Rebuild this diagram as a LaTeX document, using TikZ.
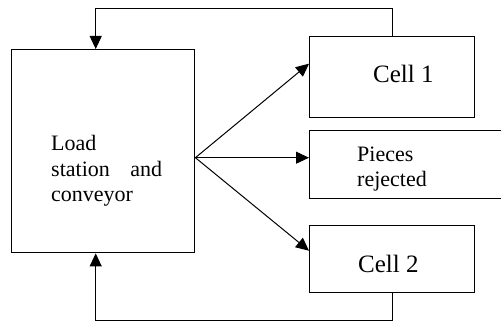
\documentclass[tikz,border=0pt]{standalone}
\usepackage{fontspec}
\setmainfont{Liberation Serif}
\usetikzlibrary{arrows.meta, positioning}

\begin{document}
\begin{tikzpicture}[
  x=1pt, y=-1pt,
  >={Triangle[length=13pt,width=12pt]},
  blk/.style={draw, line width=1.4pt, inner sep=0pt},
  lbl/.style={font=\fontsize{22}{25.5}\selectfont, align=left, inner sep=0pt},
  clbl/.style={font=\fontsize{25}{30}\selectfont, inner sep=0pt},
  arr/.style={->, line width=1pt}
]
\useasboundingbox (0,0) rectangle (501,321);
\clip (0,0) rectangle (501,321);

% station and the three outlets
\node[blk, anchor=north west, minimum width=183pt, minimum height=203pt] (load) at (11,49) {};
\node[blk, anchor=north west, minimum width=165pt, minimum height=81pt] (cell1) at (309,36) {};
\node[blk, anchor=north west, minimum width=210pt, minimum height=68pt] (rej) at (309,130) {};
\node[blk, anchor=north west, minimum width=165pt, minimum height=67pt] (cell2) at (309,225) {};

\node[lbl, anchor=base west, text width=111pt] (loadtxt) at (51,150.7)
  {Load\\station\hfill and\\conveyor};
\node[clbl, anchor=base west] (cell1txt) at (373,83) {Cell 1};
\node[lbl, anchor=base west, text width=80pt] (rejtxt) at (357,161) {Pieces\\rejected};
\node[clbl, anchor=base west] (cell2txt) at (358,272) {Cell 2};

% fan-out from the conveyor
\coordinate (fan) at ([yshift=-6.5pt]load.east);
\draw[arr] (fan) -- ([yshift=13.5pt]cell1.west);
\draw[arr] (fan) -- ([yshift=7pt]rej.west);
\draw[arr] (fan) -- ([yshift=8.5pt]cell2.west);

% return loops
\draw[arr] (cell1.north) -- ++(0,-27) -| ([xshift=-7.5pt]load.north);
\draw[arr] (cell2.south) -- ++(0,27) -| ([xshift=-7.5pt]load.south);

\end{tikzpicture}
\end{document}
